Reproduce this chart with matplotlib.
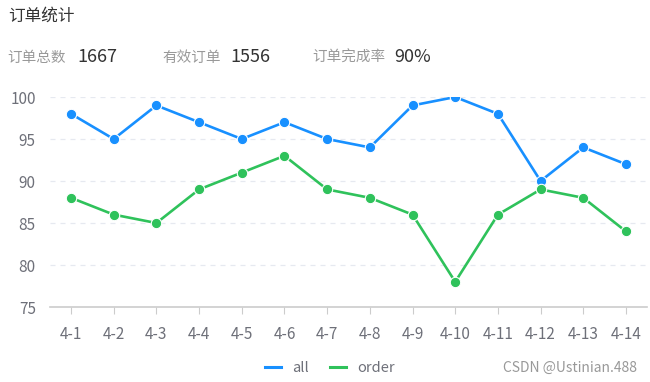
import matplotlib
matplotlib.use('Agg')
import matplotlib.pyplot as plt
from matplotlib.lines import Line2D

plt.rcParams['font.family'] = ['Noto Sans CJK SC', 'DejaVu Sans']

# data
days = ['4-1', '4-2', '4-3', '4-4', '4-5', '4-6', '4-7',
        '4-8', '4-9', '4-10', '4-11', '4-12', '4-13', '4-14']
all_cnt = [98, 95, 99, 97, 95, 97, 95, 94, 99, 100, 98, 90, 94, 92]
order_cnt = [88, 86, 85, 89, 91, 93, 89, 88, 86, 78, 86, 89, 88, 84]
yticks = [75, 80, 85, 90, 95, 100]

stat_labels = ['订单总数', '有效订单', '订单完成率']
stat_values = ['1667', '1556', '90%']

blue = '#1890ff'
green = '#2fc25b'
grey_txt = '#6e7079'

fig = plt.figure(figsize=(6.5, 3.82), dpi=100)
ax = fig.add_axes([0.0764, 0.1963, 0.9195, 0.5497])

x = list(range(len(days)))
ax.plot(x, all_cnt, '-o', color=blue, lw=1.9, ms=7.5,
        mec='white', mew=0.8, zorder=3)
ax.plot(x, order_cnt, '-o', color=green, lw=1.9, ms=7.5,
        mec='white', mew=0.8, zorder=3)

ax.set_xlim(-0.5, len(days) - 0.5)
ax.set_ylim(75, 100)
ax.set_yticks(yticks)
ax.set_xticks(x)
ax.set_xticklabels(days)

for v in yticks[1:]:
    ax.axhline(v, color='#e6e9f0', lw=0.9, ls=(0, (4, 4)), zorder=1)

for s in ['top', 'right', 'left']:
    ax.spines[s].set_visible(False)
ax.spines['bottom'].set_color('#cccccc')
ax.spines['bottom'].set_linewidth(1.2)
ax.tick_params(axis='y', length=0, pad=10, labelsize=11, labelcolor=grey_txt)
ax.tick_params(axis='x', length=5, color='#cccccc', pad=9,
               labelsize=11, labelcolor=grey_txt)

# header texts
fig.text(8 / 650, 1 - 16 / 382, '订单统计', fontsize=12, color='#333333',
         va='center', ha='left')
label_x = [7, 162, 312]
value_x = [77, 230, 394]
for lx, vx, lab, val in zip(label_x, value_x, stat_labels, stat_values):
    fig.text(lx / 650, 1 - 58 / 382, lab, fontsize=10.5, color='#999999',
             va='center', ha='left')
    fig.text(vx / 650, 1 - 57 / 382, val, fontsize=13, color='#333333',
             va='center', ha='left')

# legend
handles = [Line2D([0], [0], color=blue, lw=2.2),
           Line2D([0], [0], color=green, lw=2.2)]
fig.legend(handles, ['all', 'order'], loc='center',
           bbox_to_anchor=(330 / 650, 1 - 368 / 382), ncol=2, frameon=False,
           fontsize=10.5, labelcolor=grey_txt, handlelength=1.1,
           handletextpad=0.8, columnspacing=1.4)

fig.text(637 / 650, 1 - 368 / 382, 'CSDN @Ustinian.488', fontsize=10,
         color='#999999', va='center', ha='right')

fig.savefig('out.png', dpi=100)
